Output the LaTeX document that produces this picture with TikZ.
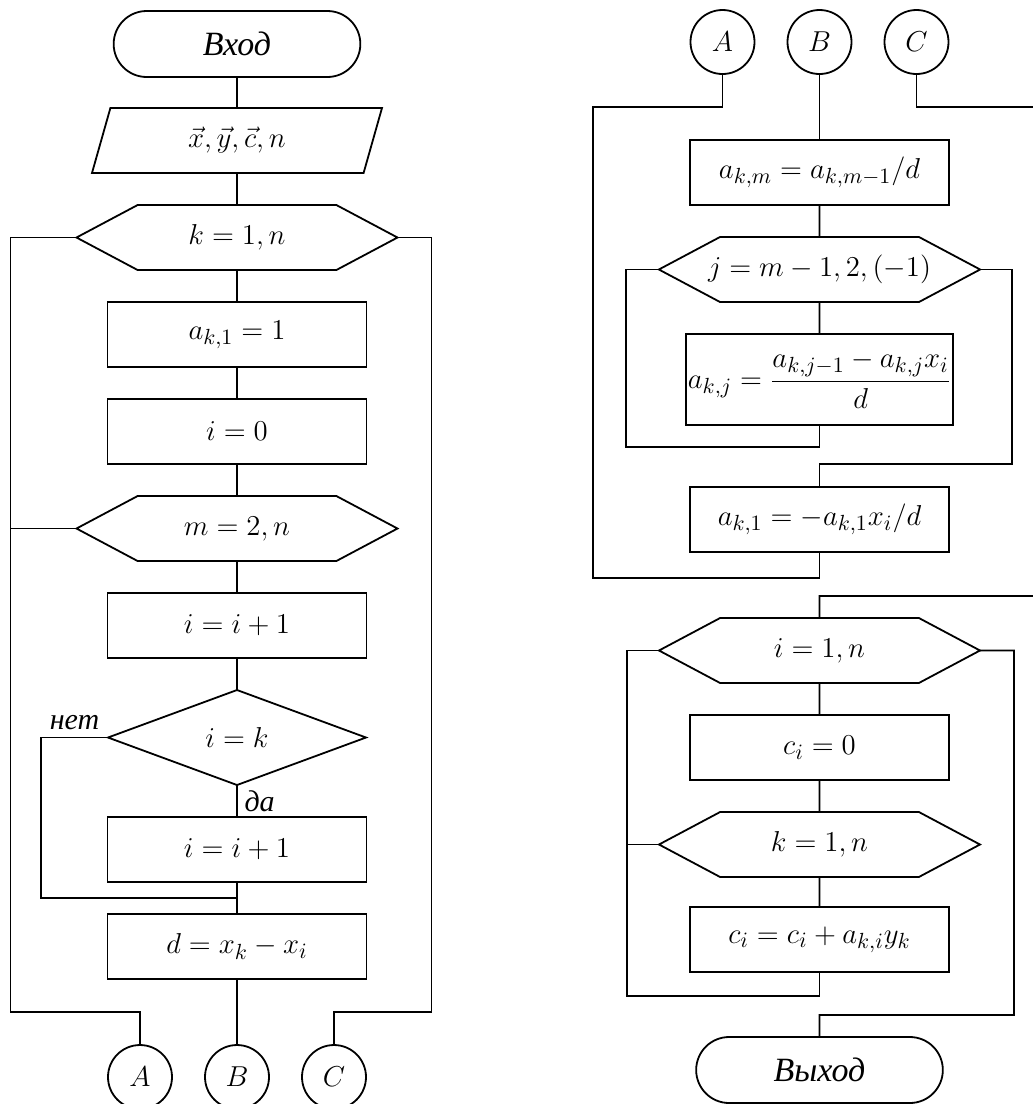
\documentclass[tikz,border=0pt]{standalone}
\usepackage{amsmath}
\usepackage{fontspec}
\setmainfont{Liberation Serif}
\usetikzlibrary{shapes.geometric,shapes.misc,shapes.symbols,positioning,calc}

\begin{document}
\begin{tikzpicture}[
        node distance=16pt,
        line width=0.9pt,
        font=\fontsize{15}{18}\selectfont\itshape,
        proc/.style={
            rectangle,
            draw,
            minimum width=129.5pt,
            minimum height=32.5pt,
            inner sep=1pt,
            outer sep=0pt
        },
        loophex/.style={
            signal,
            signal to=west and east,
            signal pointer angle=56,
            draw,
            minimum width=160.5pt,
            minimum height=32.5pt,
            inner sep=1pt,
            outer sep=0pt
        },
        term/.style={
            rounded rectangle,
            draw,
            minimum width=130pt,
            minimum height=33pt,
            outer sep=0pt,
            font=\fontsize{17}{20}\selectfont\itshape
        },
        io/.style={
            trapezium,
            trapezium left angle=65,
            trapezium right angle=115,
            trapezium stretches body,
            draw,
            minimum width=145pt,
            minimum height=32.5pt,
            outer sep=0pt
        },
        cond/.style={
            diamond,
            draw,
            aspect=2.7,
            minimum width=129pt,
            minimum height=47.5pt,
            inner sep=0pt,
            outer sep=0pt
        },
        conn/.style={
            circle,
            draw,
            minimum size=32pt,
            inner sep=0pt,
            outer sep=0pt
        }
    ]

    \useasboundingbox (0,0) rectangle (516.5pt,-552pt);

    % Left column
    \node [term] (in) at (118.5pt,-22pt) {Вход};
    \node [io, below=15.5pt of in] (data) {$\vec{x}, \vec{y}, \vec{c}, n$};
    \node [loophex, below=of data] (kloop) {$k=1, n$};
    \node [proc, below=of kloop] (akone) {$a_{k,1}=1$};
    \node [proc, below=of akone] (izero) {$i=0$};
    \node [loophex, below=of izero] (mloop) {$m=2, n$};
    \node [proc, below=of mloop] (iinc) {$i=i+1$};
    \node [cond, below=of iinc] (ieqk) {$i=k$};
    \node [proc, below=of ieqk] (iskip) {$i=i+1$};
    \node [proc, below=of iskip] (dcalc) {$d=x_k-x_i$};
    \node [conn, below=33pt of dcalc] (B) {$B$};
    \node [conn, left=16.5pt of B] (A) {$A$};
    \node [conn, right=16.5pt of B] (C) {$C$};

    % Right column
    \node [conn] (Bto) at (409.75pt,-21pt) {$B$};
    \node [conn, left=16.5pt of Bto] (Ato) {$A$};
    \node [conn, right=16.5pt of Bto] (Cto) {$C$};
    \node [proc, below=33pt of Bto] (akm) {$a_{k,m}=a_{k,m-1}/d$};
    \node [loophex, below=of akm, inner xsep=-6pt] (jloop) {$j=m-1, 2, (-1)$};
    \node [proc, below=of jloop, minimum height=45.5pt] (akj) {$a_{k,j}=\dfrac{a_{k,j-1}-a_{k,j}x_i}{d}$};
    \node [proc, below=31pt of akj] (akfirst) {$a_{k,1}=-a_{k,1}x_i/d$};
    \node [loophex, below=33pt of akfirst] (iloop) {$i=1, n$};
    \node [proc, below=of iloop] (czero) {$c_i=0$};
    \node [loophex, below=of czero] (ksum) {$k=1, n$};
    \node [proc, below=15pt of ksum] (cacc) {$c_i=c_i+a_{k,i}y_k$};
    \node [term, below=32.5pt of cacc] (out) {Выход};

    % Helper points
    \coordinate (lbot) at ($(dcalc.south)!0.5!(B.north)$);
    \coordinate (lx) at ([xshift=-33pt]kloop.west);
    \coordinate (rx) at ([xshift=17pt]kloop.east);
    \coordinate (nx) at ([xshift=-33.5pt]ieqk.west);
    \coordinate (njoin) at ($(iskip.south)!0.5!(dcalc.north)$);
    \coordinate (cedge) at (516.5pt,0);
    \coordinate (atop) at ($(Bto.south)!0.5!(akm.north)$);
    \coordinate (ax) at ([xshift=-33pt]jloop.west);
    \coordinate (abot) at ([yshift=-13pt]akfirst.south);
    \coordinate (jx) at ([xshift=-16.5pt]jloop.west);
    \coordinate (jbot) at ([yshift=-11pt]akj.south);
    \coordinate (jrx) at ([xshift=16pt]jloop.east);
    \coordinate (jrbot) at ([yshift=11.5pt]akfirst.north);
    \coordinate (iin) at ([yshift=11pt]iloop.north);
    \coordinate (ix) at ([xshift=-16pt]iloop.west);
    \coordinate (ibot) at ([yshift=-12pt]cacc.south);
    \coordinate (irx) at ([xshift=17pt]iloop.east);
    \coordinate (irbot) at ([yshift=11pt]out.north);

    % Connections, left column
    \draw (in) -- (data);
    \draw (data) -- (kloop);
    \draw (kloop) -- (akone);
    \draw (akone) -- (izero);
    \draw (izero) -- (mloop);
    \draw (mloop) -- (iinc);
    \draw (iinc) -- (ieqk);
    \draw (ieqk) -- node [right] {да} (iskip);
    \draw (ieqk.west) -- node [above] {нет} (nx) |- (njoin);
    \draw (iskip) -- (dcalc);
    \draw (dcalc) -- (B);
    \draw (kloop.west) -- (lx) |- (lbot -| A) -- (A);
    \draw (mloop.west) -- (mloop.west -| lx);
    \draw (kloop.east) -- (rx) |- (lbot -| C) -- (C);

    % Connections, right column
    \draw (Bto) -- (akm);
    \draw (Ato) -- (Ato |- atop) -| (ax |- abot) -- (abot);
    \draw (Cto) -- (Cto |- atop) -- (atop -| cedge);
    \draw (akm) -- (jloop);
    \draw (jloop) -- (akj);
    \draw (jloop.west) -- (jx) |- (jbot) -- (akj);
    \draw (jloop.east) -- (jrx) |- (jrbot) -- (akfirst);
    \draw (akfirst) -- (abot);
    \draw (iin -| cedge) -- (iin) -- (iloop);
    \draw (iloop) -- (czero);
    \draw (czero) -- (ksum);
    \draw (ksum) -- (cacc);
    \draw (iloop.west) -- (ix) |- (ibot) -- (cacc);
    \draw (ksum.west) -- (ksum.west -| ix);
    \draw (iloop.east) -- (irx) |- (irbot) -- (out);

\end{tikzpicture}
\end{document}
